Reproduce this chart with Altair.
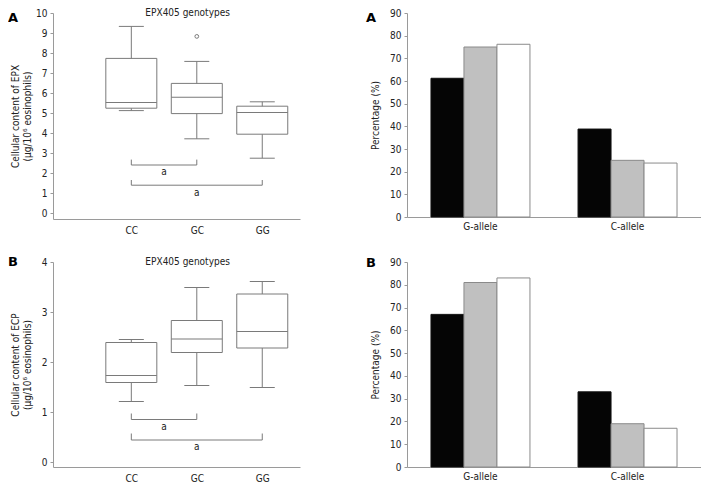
import json
import altair as alt
import pandas as pd

# ---------------- data ----------------
genotypes = ["CC", "GC", "GG"]
geno_pos = [1, 2, 3]

# Panel A (left): EPX cellular content, box statistics per genotype
epx_lower = [5.12, 3.71, 2.74]
epx_q1 = [5.24, 4.97, 3.94]
epx_median = [5.53, 5.79, 5.03]
epx_q3 = [7.73, 6.48, 5.34]
epx_upper = [9.33, 7.58, 5.56]
epx_outlier_geno = ["GC"]
epx_outlier_val = [8.83]

# Panel B (left): ECP cellular content
ecp_lower = [1.21, 1.53, 1.49]
ecp_q1 = [1.59, 2.19, 2.28]
ecp_median = [1.73, 2.46, 2.61]
ecp_q3 = [2.39, 2.83, 3.36]
ecp_upper = [2.45, 3.49, 3.61]

# significance brackets
brk_from = ["CC", "CC"]
brk_to = ["GC", "GG"]
brk_label = ["a", "a"]
epx_brk_y = [2.40, 1.39]
epx_brk_top = [2.67, 1.65]
epx_brk_label_y = [2.05, 1.02]
ecp_brk_y = [0.85, 0.44]
ecp_brk_top = [0.97, 0.57]
ecp_brk_label_y = [0.71, 0.30]

# panel subtitle text and its anchor (x in genotype units, y in data units)
subtitle = "EPX405 genotypes"
epx_subtitle_at = [1.86, 10.0]
ecp_subtitle_at = [1.86, 4.0]

# allele frequency bars
alleles = ["G-allele", "C-allele"]
groups = ["Group 1", "Group 2", "Group 3"]
group_fill = ["#050505", "#c0c0c0", "#ffffff"]
group_stroke = ["#111111", "#8a8a8a", "#8a8a8a"]
freqA_G = [61.2, 75.0, 76.2]
freqA_C = [38.8, 25.0, 23.8]
freqB_G = [67.0, 81.0, 83.0]
freqB_C = [33.0, 19.0, 17.0]

# ---------------- style ----------------
FONT = "'DejaVu Sans Condensed', 'Liberation Sans', sans-serif"
LETTER_FONT = "'DejaVu Sans', sans-serif"
LINE = "#7a7a7a"
AXIS = "#9a9a9a"
TEXT = "#222222"

pos_of = dict(zip(genotypes, geno_pos))
label_expr = json.dumps(genotypes) + "[datum.value - 1]"


def box_panel(lower, q1, med, q3, upper, ydom, yticks, ytitle, letter, letter_y,
              by, btop, bly, sub_at, title_pad, height, out_geno=None, out_val=None):
    df = pd.DataFrame({"genotype": genotypes, "pos": geno_pos, "lower": lower,
                       "q1": q1, "median": med, "q3": q3, "upper": upper})
    xscale = alt.Scale(domain=[-0.12, 3.5], nice=False, zero=False)
    xaxis = alt.Axis(values=geno_pos, labelExpr=label_expr, ticks=False,
                     grid=False, title=None, labelPadding=6)
    xenc = lambda f: alt.X(f + ":Q", scale=xscale, axis=xaxis)
    yscale = alt.Scale(domain=ydom, nice=False, zero=False)
    yaxis = alt.Axis(values=yticks, title=ytitle, grid=False, tickSize=3, labelPadding=3,
                     titlePadding=title_pad, titleLineHeight=12)
    yenc = lambda f: alt.Y(f + ":Q", scale=yscale, axis=yaxis)

    base = alt.Chart(df)
    whisk = base.mark_rule(color=LINE, strokeWidth=1).encode(x=xenc("pos"), y=yenc("lower"), y2="upper:Q")
    cap_hi = base.mark_tick(orient="horizontal", size=25, thickness=1, color=LINE, opacity=1).encode(
        x=xenc("pos"), y=yenc("upper"))
    cap_lo = base.mark_tick(orient="horizontal", size=25, thickness=1, color=LINE, opacity=1).encode(
        x=xenc("pos"), y=yenc("lower"))
    box = base.mark_bar(size=51, fill="white", stroke=LINE, strokeWidth=1).encode(
        x=xenc("pos"), y=yenc("q1"), y2="q3:Q")
    medl = base.mark_tick(orient="horizontal", size=51, thickness=1, color=LINE, opacity=1).encode(
        x=xenc("pos"), y=yenc("median"))

    bdf = pd.DataFrame({"x1": [pos_of[g] for g in brk_from], "x2": [pos_of[g] for g in brk_to],
                        "y": by, "ytop": btop, "ly": bly, "label": brk_label})
    bbase = alt.Chart(bdf)
    hline = bbase.mark_rule(color=LINE).encode(x=xenc("x1"), x2="x2:Q", y=yenc("y"))
    lend = bbase.mark_rule(color=LINE).encode(x=xenc("x1"), y=yenc("y"), y2="ytop:Q")
    rend = bbase.mark_rule(color=LINE).encode(x=xenc("x2"), y=yenc("y"), y2="ytop:Q")
    lab = bbase.transform_calculate(mid="(datum.x1 + datum.x2) / 2").mark_text(
        font=FONT, fontSize=10, color=TEXT, baseline="middle").encode(
        x=xenc("mid"), y=yenc("ly"), text="label:N")

    title = alt.Chart(pd.DataFrame({"t": [subtitle], "sx": [sub_at[0]], "sy": [sub_at[1]]})).mark_text(
        font=FONT, fontSize=10, color=TEXT, baseline="middle", align="center").encode(
        x=xenc("sx"), y=yenc("sy"), text="t:N")
    let = alt.Chart(pd.DataFrame({"t": [letter]})).mark_text(
        font=LETTER_FONT, fontSize=13, fontWeight="bold", color="#000",
        align="left", baseline="top").encode(x=alt.value(-45), y=alt.value(letter_y), text="t:N")

    layers = [whisk, cap_hi, cap_lo, box, medl, hline, lend, rend, lab, title, let]
    if out_geno:
        odf = pd.DataFrame({"pos": [pos_of[g] for g in out_geno], "val": out_val})
        layers.append(alt.Chart(odf).mark_point(shape="circle", size=14, filled=False,
                                                color=LINE, strokeWidth=1, opacity=1).encode(
            x=xenc("pos"), y=yenc("val")))
    return alt.layer(*layers).properties(width=247, height=height)


def bar_panel(gvals, cvals, letter, letter_y, height):
    rows = []
    for a, vals in zip(alleles, [gvals, cvals]):
        for g, v in zip(groups, vals):
            rows.append({"allele": a, "group": g, "value": v})
    df = pd.DataFrame(rows)
    bars = alt.Chart(df).mark_bar(strokeWidth=1).encode(
        x=alt.X("allele:N", sort=alleles,
                scale=alt.Scale(paddingInner=0.327, paddingOuter=0.163),
                axis=alt.Axis(title=None, labelAngle=0, ticks=False, labelPadding=4)),
        xOffset=alt.XOffset("group:N", sort=groups,
                            scale=alt.Scale(paddingInner=0, paddingOuter=0)),
        y=alt.Y("value:Q", scale=alt.Scale(domain=[0, 90], nice=False),
                axis=alt.Axis(values=list(range(0, 91, 10)), title="Percentage (%)",
                              grid=False, tickSize=3, labelPadding=3, titlePadding=9)),
        fill=alt.Fill("group:N", scale=alt.Scale(domain=groups, range=group_fill), legend=None),
        stroke=alt.Stroke("group:N", scale=alt.Scale(domain=groups, range=group_stroke), legend=None),
    )
    let = alt.Chart(pd.DataFrame({"t": [letter]})).mark_text(
        font=LETTER_FONT, fontSize=13, fontWeight="bold", color="#000",
        align="left", baseline="top").encode(x=alt.value(-41), y=alt.value(letter_y), text="t:N")
    return alt.layer(bars, let).properties(width=294, height=height)


boxA = box_panel(epx_lower, epx_q1, epx_median, epx_q3, epx_upper, [-0.3, 10],
                 list(range(0, 11)), ["Cellular content of EPX", "(\u03bcg/10\u2076 eosinophils)"],
                 "A", -1, epx_brk_y, epx_brk_top, epx_brk_label_y, epx_subtitle_at, 3, 206,
                 epx_outlier_geno, epx_outlier_val)
boxB = box_panel(ecp_lower, ecp_q1, ecp_median, ecp_q3, ecp_upper, [-0.1, 4],
                 list(range(0, 5)), ["Cellular content of ECP", "(\u03bcg/10\u2076 eosinophils)"],
                 "B", -6, ecp_brk_y, ecp_brk_top, ecp_brk_label_y, ecp_subtitle_at, 9, 205)
barA = bar_panel(freqA_G, freqA_C, "A", -1, 204)
barB = bar_panel(freqB_G, freqB_C, "B", -5, 205)

chart = alt.hconcat(
    alt.vconcat(boxA, boxB, spacing=21),
    alt.vconcat(barA, barB, spacing=26),
    spacing=66,
).properties(padding=0).configure_view(stroke=None).configure_axis(
    labelFont=FONT, titleFont=FONT, labelFontSize=10, titleFontSize=10,
    labelColor=TEXT, titleColor=TEXT, titleFontWeight="normal",
    domainColor=AXIS, tickColor=AXIS,
)

chart.save("out.html", embed_options={"renderer": "svg", "actions": False})
